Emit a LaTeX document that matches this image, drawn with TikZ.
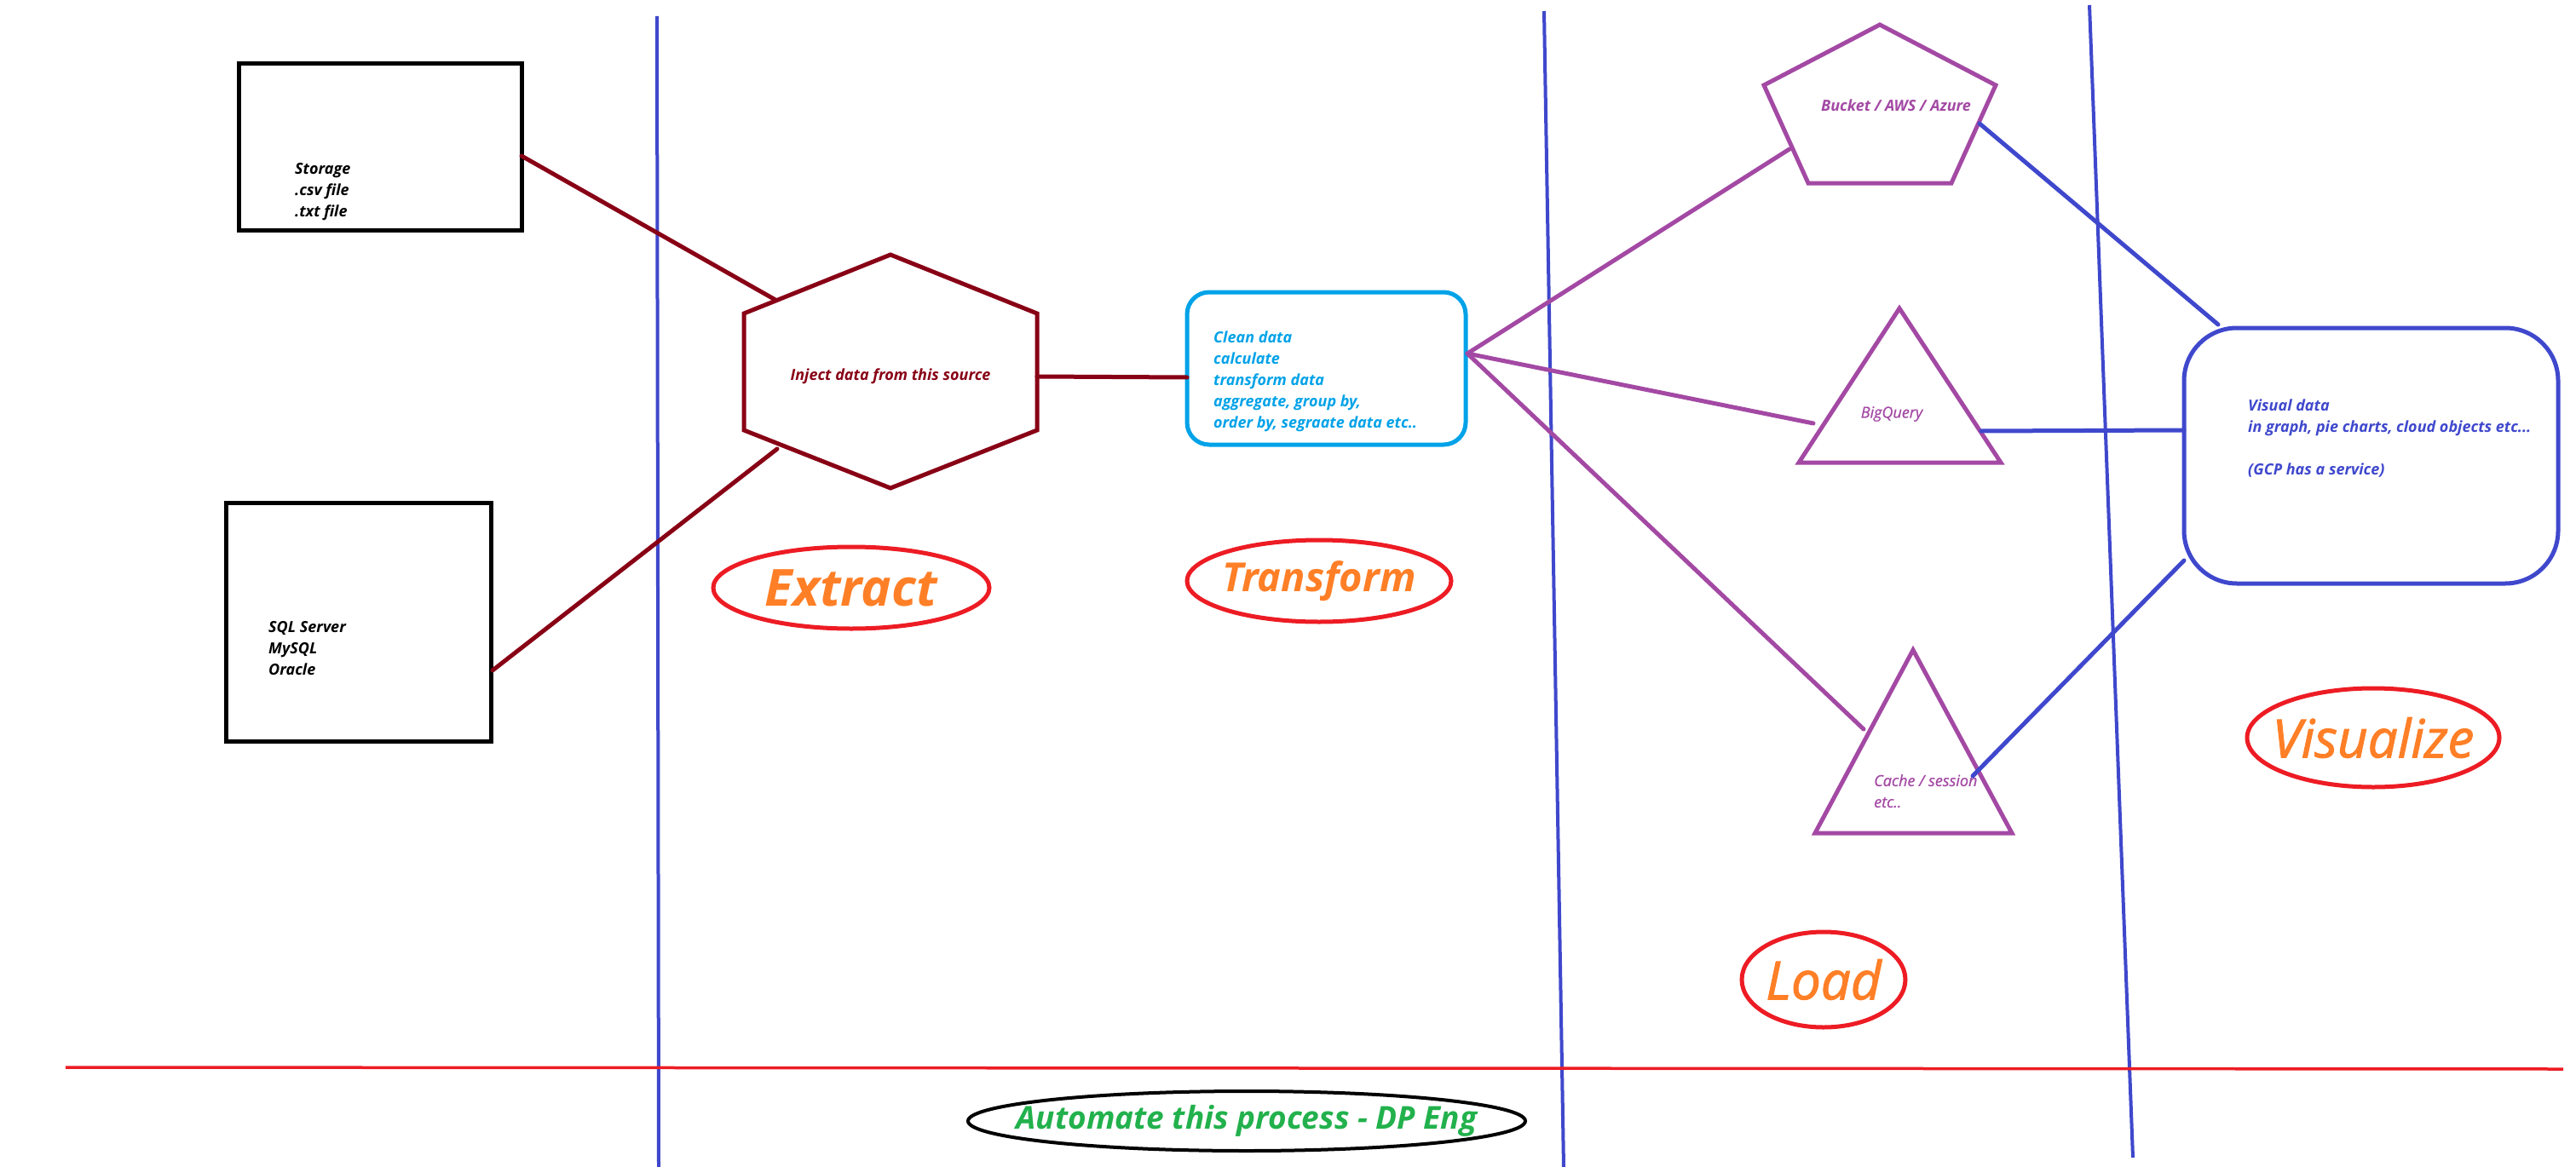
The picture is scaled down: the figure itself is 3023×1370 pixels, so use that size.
\documentclass[tikz,border=0pt]{standalone}
\usepackage{fontspec}
\setmainfont{Open Sans}
\newfontfamily\semibi{Open Sans Italic}[FakeBold=1.6]
\newfontfamily\medi{Open Sans Italic}[FakeBold=0.8]
\usetikzlibrary{shapes.geometric,calc}
\definecolor{dred}{HTML}{880015}
\definecolor{cyanp}{HTML}{00A2E8}
\definecolor{purp}{HTML}{A349A4}
\definecolor{indig}{HTML}{3F48CC}
\definecolor{redp}{HTML}{ED1C24}
\definecolor{orng}{HTML}{FF7F27}
\definecolor{grn}{HTML}{22B14C}
\newcommand\smalltxt{\fontsize{18}{25}\selectfont\bfseries\itshape}
\newcommand\smallreg{\fontsize{18}{25}\selectfont\medi}
\begin{document}
\begin{tikzpicture}[x=1pt,y=-1pt,
  blackbox/.style={draw=black,line width=5pt,inner sep=0pt,outer sep=0pt},
  txtblk/.style={align=left,inner sep=0pt,anchor=north west,font=\smalltxt},
  shapeline/.style={line width=5pt,line join=miter},
  conn/.style={line width=5pt,line cap=round},
  divider/.style={draw=indig,line width=4pt},
  biglbl/.style={text=orng,inner sep=0pt,font=\bfseries\itshape\fontsize{60}{60}\selectfont},
  lblring/.style={draw=redp,line width=5pt}]
\useasboundingbox (0,0) rectangle (3023,1370);

% dividers
\draw[divider] (771,19) -- (773,1370);
\draw[divider] (1812,13) -- (1835,1370);
\draw[divider] (2452,6) -- (2503,1359);
\draw[draw=redp,line width=3.5pt] (77,1253) -- (3008,1255);

% source boxes
\node[blackbox,minimum width=332pt,minimum height=195pt] (storage) at (446,172.5) {};
\node[txtblk,text=black] (storagetxt) at (346,191) {Storage\\.csv file\\.txt file};
\node[blackbox,minimum width=311pt,minimum height=280pt] (sql) at (420.5,730) {};
\node[txtblk,text=black] (sqltxt) at (315,729) {SQL Server\\MySQL\\Oracle};

% hexagon
\coordinate (h1) at (1045,299);
\coordinate (h2) at (1217,368);
\coordinate (h3) at (1217,505);
\coordinate (h4) at (1045,573);
\coordinate (h5) at (873,505);
\coordinate (h6) at (873,368);
\draw[shapeline,draw=dred] (h1) -- (h2) -- (h3) -- (h4) -- (h5) -- (h6) -- cycle;
\node[text=dred,font=\smalltxt,inner sep=0pt] (inject) at (1045,442) {Inject data from this source};

% transform box
\node[draw=cyanp,line width=5pt,rounded corners=26pt,minimum width=327pt,minimum height=179pt,inner sep=0pt] (transform) at (1556.5,432.5) {};
\node[txtblk,text=cyanp] (transformtxt) at (1424,389) {Clean data\\calculate\\transform data\\aggregate, group by,\\order by, segraate data etc..};

% pentagon
\coordinate (p1) at (2206,29);
\coordinate (p2) at (2342,100);
\coordinate (p3) at (2290,215);
\coordinate (p4) at (2122,215);
\coordinate (p5) at (2070,100);
\draw[shapeline,draw=purp] (p1) -- (p2) -- (p3) -- (p4) -- (p5) -- cycle;
\node[text=purp,font=\smalltxt,inner sep=0pt] (bucket) at (2225,124) {Bucket / AWS / Azure};

% BigQuery triangle
\coordinate (b1) at (2229,362);
\coordinate (b2) at (2348,543);
\coordinate (b3) at (2111,543);
\draw[shapeline,draw=purp] (b1) -- (b2) -- (b3) -- cycle;
\node[text=purp,font=\smallreg,inner sep=0pt] (bigquery) at (2220,486) {BigQuery};

% Cache triangle
\coordinate (c1) at (2245,763);
\coordinate (c2) at (2361,978);
\coordinate (c3) at (2130,978);
\draw[shapeline,draw=purp] (c1) -- (c2) -- (c3) -- cycle;
\node[align=left,inner sep=0pt,anchor=north west,font=\smallreg,text=purp] (cache) at (2199,909) {Cache / session\\etc..};

% visual box
\node[draw=indig,line width=5pt,rounded corners=62pt,minimum width=439pt,minimum height=300pt,inner sep=0pt] (visual) at (2782.5,535) {};
\node[txtblk,text=indig] (visualtxt) at (2638,469) {Visual data\\in graph, pie charts, cloud objects etc...\\[25pt](GCP has a service)};

% connector end points
\coordinate (stOut) at (612,183);
\coordinate (hxInA) at (910,352);
\coordinate (sqOut) at (578,787);
\coordinate (hxInB) at (912,527);
\coordinate (hxOut) at (1217,442);
\coordinate (trIn) at (1393,443);
\coordinate (trOut) at (1722,415);
\coordinate (pIn) at (2100,175);
\coordinate (bIn) at (2128,497);
\coordinate (cIn) at (2187,856);
\coordinate (pOut) at (2323,145);
\coordinate (bOut) at (2325,506);
\coordinate (cOut) at (2315,911);
\coordinate (vInA) at (2603,381);
\coordinate (vInB) at (2563,505);
\coordinate (vInC) at (2563,658);

\draw[conn,draw=dred] (stOut) -- (hxInA);
\draw[conn,draw=dred] (sqOut) -- (hxInB);
\draw[conn,draw=dred] (hxOut) -- (trIn);
\draw[conn,draw=purp] (trOut) -- (pIn);
\draw[conn,draw=purp] (trOut) -- (bIn);
\draw[conn,draw=purp] (trOut) -- (cIn);
\draw[conn,draw=indig] (pOut) -- (vInA);
\draw[conn,draw=indig] (bOut) -- (vInB);
\draw[conn,draw=indig] (cOut) -- (vInC);

% stage labels
\node[biglbl] (extract) at (999,690) {Extract};
\draw[lblring] (extract.center) ellipse [x radius=162pt,y radius=48pt];
\node[biglbl,font=\bfseries\itshape\fontsize{47}{47}\selectfont] (transformlbl) at (1548,682) {Transform};
\draw[lblring] (transformlbl.center) ellipse [x radius=155pt,y radius=48pt];
\node[biglbl,font=\semibi\fontsize{62}{62}\selectfont] (load) at (2140,1150) {Load};
\draw[lblring] (load.center) ellipse [x radius=96pt,y radius=56pt];
\node[biglbl,font=\semibi\fontsize{62}{62}\selectfont] (visualize) at (2785,866) {Visualize};
\draw[lblring] (visualize.center) ellipse [x radius=148pt,y radius=58pt];
\node[text=grn,inner sep=0pt,font=\bfseries\itshape\fontsize{37}{37}\selectfont] (automate) at (1463,1316) {Automate this process - DP Eng};
\draw[draw=black,line width=4pt] (automate.center) ellipse [x radius=327pt,y radius=35pt];
\end{tikzpicture}
\end{document}
